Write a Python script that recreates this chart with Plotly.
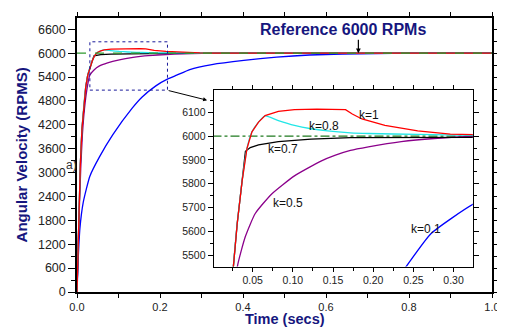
import plotly.graph_objects as go

# ---- data ----
red_t = [0, 0.002, 0.005, 0.008, 0.012, 0.017, 0.021, 0.0259, 0.0308, 0.0369, 0.043, 0.0491, 0.0573,
         0.0655, 0.082, 0.102, 0.13, 0.153, 0.1656, 0.174, 0.186, 0.2146, 0.2554, 0.296, 0.325, 0.4, 0.6, 1.0]
red_v = [0, 900, 2000, 3200, 4100, 4750, 5150, 5449, 5634, 5812, 5949, 6018, 6059,
         6086, 6104, 6111, 6113, 6113, 6111, 6093, 6072, 6045, 6022, 6008, 6004, 6001, 6000, 6000]

cyan_t = [0, 0.002, 0.005, 0.008, 0.012, 0.017, 0.021, 0.0259, 0.0308, 0.0369, 0.043, 0.0491, 0.0573,
          0.0655, 0.082, 0.102, 0.1227, 0.143, 0.1717, 0.194, 0.255, 0.325, 0.4, 1.0]
cyan_v = [0, 900, 2000, 3200, 4100, 4750, 5150, 5449, 5634, 5812, 5949, 6018, 6059,
          6085, 6065, 6045, 6031, 6022, 6014, 6011, 6007, 6003, 6001, 6000]

black_t = [0, 0.002, 0.005, 0.008, 0.012, 0.017, 0.021, 0.0259, 0.0308, 0.0369, 0.041, 0.047, 0.0573,
           0.082, 0.1227, 0.1717, 0.22, 0.3, 0.4, 1.0]
black_v = [0, 900, 2000, 3200, 4100, 4750, 5150, 5449, 5634, 5812, 5936, 5952, 5963,
           5977, 5987, 5994, 5997, 5999, 6000, 6000]

purple_t = [0, 0.002, 0.005, 0.009, 0.013, 0.018, 0.024, 0.0308, 0.041, 0.0532, 0.0737, 0.102, 0.135,
            0.153, 0.1717, 0.194, 0.235, 0.276, 0.325, 0.4, 1.0]
purple_v = [0, 850, 1900, 3100, 3950, 4600, 5100, 5449, 5579, 5675, 5757, 5833, 5895,
            5920, 5940, 5955, 5977, 5990, 5999, 6000, 6000]

blue_t = [0, 0.003, 0.007, 0.015, 0.031, 0.0545, 0.086, 0.133, 0.157, 0.19, 0.22, 0.2403, 0.2718,
          0.325, 0.402, 0.481, 0.56, 0.639, 0.72, 0.8, 1.0]
blue_v = [0, 860, 1600, 2255, 2911, 3403, 3950, 4620, 4900, 5180, 5360, 5449, 5590,
          5715, 5820, 5901, 5955, 5978, 5993, 6000, 6000]

series_names = ["k=1", "k=0.8", "k=0.7", "k=0.5", "k=0.1"]
series_t = [red_t, cyan_t, black_t, purple_t, blue_t]
series_v = [red_v, cyan_v, black_v, purple_v, blue_v]
series_colors = ["#ff0000", "#22e6e6", "#000000", "#8b008b", "#0000ff"]
series_shape = ["linear", "spline", "linear", "spline", "spline"]

reference_rpm = 6000
main_yticks = list(range(0, 6601, 600))
inset_yticks = [5500, 5600, 5700, 5800, 5900, 6000, 6100]
inset_xticks = [0.05, 0.10, 0.15, 0.20, 0.25, 0.30]

label_pos_t = [0.195, 0.1386, 0.088, 0.094, 0.2657]
label_pos_v = [6089, 6041, 5946, 5720, 5609]

FONT = "Arial, Liberation Sans, sans-serif"
NAVY = "#16167e"

fig = go.Figure()

order = [4, 3, 2, 1, 0]


def add_curve(i, xa, ya):
    fig.add_trace(go.Scatter(x=series_t[i], y=series_v[i], mode="lines",
                             line=dict(color=series_colors[i], width=1.3, shape=series_shape[i],
                                       smoothing=0.5),
                             xaxis=xa, yaxis=ya, showlegend=False, hoverinfo="skip"))


for i in order:
    add_curve(i, "x", "y")
fig.add_trace(go.Scatter(x=[0, 1], y=[reference_rpm, reference_rpm], mode="lines",
                         line=dict(color="#2e9a2e", width=1.3, dash="dash"),
                         xaxis="x", yaxis="y", showlegend=False, hoverinfo="skip"))

fig.add_trace(go.Scatter(x=[0, 0.4], y=[reference_rpm, reference_rpm], mode="lines",
                         line=dict(color="#1f7a1f", width=1.2, dash="dashdot"),
                         xaxis="x2", yaxis="y2", showlegend=False, hoverinfo="skip"))
for i in order:
    add_curve(i, "x2", "y2")

annotations = []
for name, t, v in zip(series_names, label_pos_t, label_pos_v):
    annotations.append(dict(x=t, y=v, xref="x2", yref="y2", text=name, showarrow=False,
                            font=dict(family=FONT, size=12, color="#111")))

annotations += [
    dict(x=0.642, y=6590, xref="x", yref="y", text="<b>Reference 6000 RPMs</b>", showarrow=False,
         font=dict(family=FONT, size=16, color=NAVY)),
    dict(x=0.678, y=reference_rpm, xref="x", yref="y", ax=0, ay=-15, axref="pixel", ayref="pixel",
         text="", showarrow=True, arrowhead=2, arrowsize=0.8, arrowwidth=1.2, arrowcolor="#000"),
    dict(x=0.3135, y=0.70, xref="paper", yref="paper", ax=-40, ay=-10,
         text="", showarrow=True, arrowhead=2, arrowsize=0.8, arrowwidth=1, arrowcolor="#000"),
    dict(x=-0.031, y=0.463, xref="paper", yref="paper", text="a)", showarrow=False,
         font=dict(family=FONT, size=12, color="#333")),
    dict(x=-0.134, y=0.5, xref="paper", yref="paper", text="<b>Angular Velocity (RPMS)</b>",
         xanchor="center", yanchor="middle",
         textangle=-90, showarrow=False, font=dict(family=FONT, size=15, color=NAVY)),
    dict(x=0.5, y=-0.1, xref="paper", yref="paper", text="<b>Time (secs)</b>", showarrow=False,
         xanchor="center", yanchor="middle", font=dict(family=FONT, size=14.5, color=NAVY)),
]

shapes = [dict(type="rect", xref="x", yref="y", x0=0.031, x1=0.218, y0=5073, y1=6287,
               line=dict(color="#1a1a9a", width=1, dash="dot"))]

axis_common = dict(showline=True, linecolor="#000", linewidth=1.5, mirror="ticks", ticks="outside",
                   tickcolor="#000", showgrid=False, zeroline=False)

# page body has an 8px default margin: size the figure so the plot area lands where the reference has it
fig.update_layout(
    width=497, height=321,
    margin=dict(l=69, r=6, t=4, b=37),
    paper_bgcolor="white", plot_bgcolor="white",
    showlegend=False,
    xaxis=dict(axis_common, range=[0, 1.0], domain=[0, 1], tickvals=[0, 0.2, 0.4, 0.6, 0.8, 1.0],
               tickformat=".1f", ticklen=4, tickwidth=1,
               minor=dict(dtick=0.1, tick0=0, ticklen=4, ticks="outside", tickcolor="#000"),
               tickfont=dict(family=FONT, size=11, color="#222")),
    yaxis=dict(axis_common, range=[0, 6885], domain=[0, 1], tickvals=main_yticks, ticklen=7, tickwidth=1,
               minor=dict(dtick=300, tick0=0, ticklen=4, ticks="outside", tickcolor="#000"),
               tickfont=dict(family=FONT, size=12.5, color="#222")),
    xaxis2=dict(axis_common, range=[0.0015, 0.324], domain=[0.3294, 0.9538], anchor="y2",
                tickvals=inset_xticks, tickformat=".2f", ticklen=4, tickwidth=1, linewidth=1.2,
                minor=dict(dtick=0.025, tick0=0, ticklen=3, ticks="outside", tickcolor="#000"),
                tickfont=dict(family=FONT, size=10.5, color="#222")),
    yaxis2=dict(axis_common, range=[5452, 6192], domain=[0.0929, 0.7357], anchor="x2",
                tickvals=inset_yticks, ticklen=5, tickwidth=1, linewidth=1.2,
                minor=dict(dtick=50, tick0=0, ticklen=3, ticks="outside", tickcolor="#000"),
                tickfont=dict(family=FONT, size=10.5, color="#222")),
    annotations=annotations,
    shapes=shapes,
)

fig.write_html("out.html")
